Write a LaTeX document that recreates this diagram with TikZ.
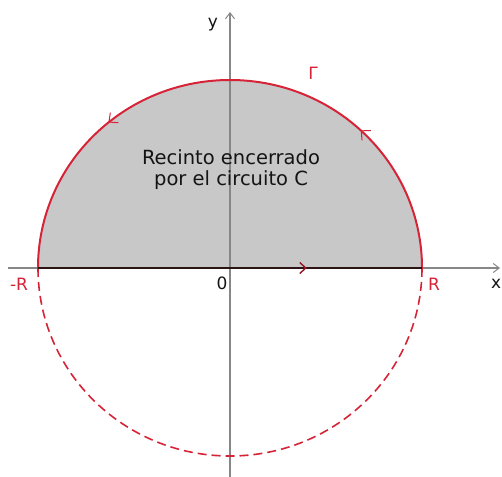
\documentclass[tikz,border=0pt]{standalone}
\usepackage{fontspec}
\setmainfont{DejaVu Sans}
\usetikzlibrary{arrows.meta,decorations.markings}
\definecolor{ArcLine} {RGB}{215,35,55}
\definecolor{RegFill} {RGB}{200,200,200}
\definecolor{AxisLine}{RGB}{135,135,135}
\definecolor{DiamLine}{RGB}{45,20,20}
\definecolor{DiamArr} {RGB}{150,20,35}
\definecolor{TxtDark} {RGB}{20,20,20}
\tikzset{
  axis_ln/.style={
    AxisLine, line width=1.4pt,
    -{Straight Barb[length=6pt,width=9pt,line width=1pt]}},
  arc_up/.style={
    ArcLine, line width=2pt,
    postaction={decorate},
    decoration={markings,
      mark=at position 0.26 with {\arrow[line width=1pt]{Straight Barb[length=7pt,width=13pt]}},
      mark=at position 0.72 with {\arrow[line width=1pt]{Straight Barb[length=7pt,width=13pt]}}}},
  arc_dn/.style={
    ArcLine, line width=1.6pt, dash pattern=on 9pt off 5pt},
  diam/.style={
    DiamLine, line width=2.6pt,
    postaction={decorate},
    decoration={markings,
      mark=at position 0.70 with {\arrow[DiamArr,line width=1.4pt]{Straight Barb[length=6pt,width=11pt]}}}},
  lbl_red/.style={text=ArcLine, font=\fontsize{17}{19}\selectfont, inner sep=0pt},
  lbl_blk/.style={text=TxtDark, font=\fontsize{17}{19}\selectfont, inner sep=0pt},
  txt_reg/.style={text=TxtDark, font=\fontsize{19.5}{21}\selectfont, align=center, inner sep=0pt},
}

\begin{document}
\begin{tikzpicture}[x=1pt,y=1pt]

%% canvas: 502 x 476, origin at the centre of the circle
\useasboundingbox (-230,-208) rectangle (272,268);

%% key points
\coordinate (O)  at (0,0);
\coordinate (pR) at (192,0);
\coordinate (mR) at (-192,0);
\coordinate (XL) at (-222,0);
\coordinate (XR) at (270,0);
\coordinate (YB) at (0,-210);
\coordinate (YT) at (0,256);

%% enclosed region
\fill[RegFill] (pR) arc[start angle=0,end angle=180,x radius=192,y radius=188] -- cycle;

%% axes
\draw[axis_ln] (XL)--(XR);
\draw[axis_ln] (YB)--(YT);

%% circuit C
\draw[arc_dn] (mR) arc[start angle=180,end angle=360,x radius=192,y radius=188];
\draw[arc_up] (pR) arc[start angle=0,end angle=180,x radius=192,y radius=188];
\draw[diam] (mR)--(pR);

%% labels
\node[lbl_blk] at (-17,243) (ylab){y};
\node[lbl_blk,anchor=west] at (261,-16) (xlab){x};
\node[lbl_blk] at (-8,-15)  (olab){0};
\node[lbl_red] at (-211,-16) (mRlab){-R};
\node[lbl_red] at (204,-16) (pRlab){R};
\node[lbl_red] at (83,195)  (gam){Γ};
\node[txt_reg] at (1,98) (reg){Recinto encerrado\\por el circuito C};

\end{tikzpicture}
\end{document}
